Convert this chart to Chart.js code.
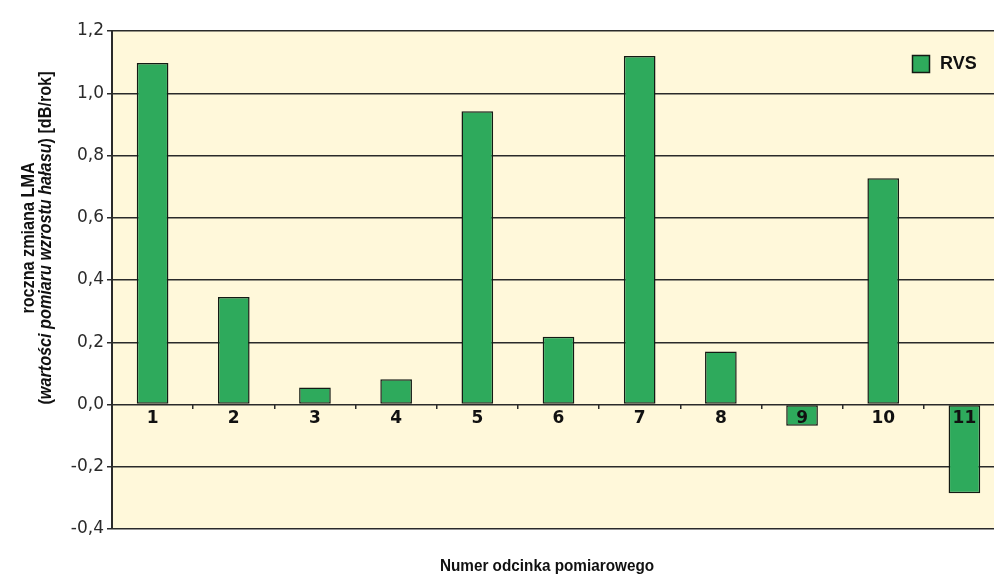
<!DOCTYPE html>
<html>
<head>
<meta charset="utf-8">
<title>Roczna zmiana LMA</title>
<script src="https://cdn.jsdelivr.net/npm/chart.js@4/dist/chart.umd.min.js"></script>
<style>
  html, body { margin: 0; padding: 0; background: #ffffff; overflow: hidden; }
  #wrap { width: 1005px; height: 576px; }
</style>
</head>
<body>
<div id="wrap"><canvas id="chart" width="1005" height="576"></canvas></div>
<script>
// Measurement sections (x axis categories)
const categories = ['1', '2', '3', '4', '5', '6', '7', '8', '9', '10', '11'];

// Annual LMA change per section, dB/year
const seriesName = 'RVS';
const rvsValues = [1.097, 0.345, 0.055, 0.081, 0.942, 0.218, 1.12, 0.17, -0.068, 0.727, -0.285];

// Value axis range and step
const yMin = -0.4;
const yMax = 1.2;
const yStep = 0.2;

// Axis titles
const xTitle = 'Numer odcinka pomiarowego';
const yTitleLine1 = 'roczna zmiana LMA';
const yTitleLine2 = [
  { text: '(', style: 'bold' },
  { text: 'wartości pomiaru wzrostu hałasu', style: 'italic' },
  { text: ') [dB/rok]', style: 'bold' }
];

const TITLE_FONT = '"Liberation Sans", Arial, sans-serif';
const BAR_FILL = '#2EAA5C';
const BAR_EDGE = '#141a14';
const LINE_DARK = '#2a2a2a';
const PLOT_BG = '#FFF8DA';

// Cream fill behind the plot area
const plotBackground = {
  id: 'plotBackground',
  beforeDraw(chart) {
    const { ctx, chartArea: a } = chart;
    ctx.save();
    ctx.fillStyle = PLOT_BG;
    ctx.fillRect(a.left, a.top, a.right - a.left, a.bottom - a.top);
    ctx.restore();
  }
};

// Axis titles (mixed bold / italic runs) and the in-plot legend
const annotations = {
  id: 'annotations',
  afterDraw(chart) {
    const ctx = chart.ctx;
    const squeeze = 0.9;

    // vertical title, two lines, reading bottom to top
    const yCenter = 238;
    ctx.save();
    ctx.fillStyle = '#111';
    ctx.textBaseline = 'alphabetic';
    ctx.textAlign = 'left';

    ctx.save();
    ctx.translate(34, yCenter);
    ctx.rotate(-Math.PI / 2);
    ctx.scale(squeeze, 1);
    ctx.font = 'bold 18px ' + TITLE_FONT;
    const w1 = ctx.measureText(yTitleLine1).width;
    ctx.fillText(yTitleLine1, -w1 / 2, 0);
    ctx.restore();

    ctx.save();
    ctx.translate(51, yCenter);
    ctx.rotate(-Math.PI / 2);
    ctx.scale(squeeze, 1);
    const fontOf = s => (s === 'italic' ? 'italic bold 18px ' : 'bold 18px ') + TITLE_FONT;
    let total = 0;
    yTitleLine2.forEach(seg => { ctx.font = fontOf(seg.style); total += ctx.measureText(seg.text).width; });
    let x = -total / 2;
    yTitleLine2.forEach(seg => {
      ctx.font = fontOf(seg.style);
      ctx.fillText(seg.text, x, 0);
      x += ctx.measureText(seg.text).width;
    });
    ctx.restore();

    // horizontal title under the plot
    ctx.save();
    ctx.translate(547, 571);
    ctx.scale(squeeze, 1);
    ctx.font = 'bold 17px ' + TITLE_FONT;
    ctx.textAlign = 'center';
    ctx.fillText(xTitle, 0, 0);
    ctx.restore();

    // legend
    const ds = chart.data.datasets[0];
    ctx.fillStyle = ds.backgroundColor;
    ctx.fillRect(912.5, 55.5, 17, 17);
    ctx.strokeStyle = ds.borderColor;
    ctx.lineWidth = 1.5;
    ctx.strokeRect(912.5, 55.5, 17, 17);
    ctx.fillStyle = '#111';
    ctx.font = 'bold 18px ' + TITLE_FONT;
    ctx.textBaseline = 'middle';
    ctx.fillText(ds.label, 940, 64.5);
    ctx.restore();
  }
};

new Chart(document.getElementById('chart'), {
  type: 'bar',
  data: {
    labels: categories,
    datasets: [{
      label: seriesName,
      data: rvsValues,
      backgroundColor: BAR_FILL,
      borderColor: BAR_EDGE,
      borderWidth: 1.5,
      borderSkipped: false,
      barPercentage: 0.39,
      categoryPercentage: 1.0
    }]
  },
  options: {
    responsive: false,
    animation: false,
    devicePixelRatio: 1,
    layout: { padding: { top: 31, bottom: 47, left: 0, right: 0 } },
    plugins: {
      legend: { display: false },
      tooltip: { enabled: false }
    },
    scales: {
      x: {
        type: 'category',
        position: { y: 0 },
        offset: true,
        grid: {
          display: true,
          offset: true,
          drawOnChartArea: false,
          drawTicks: true,
          tickLength: 4,
          color: LINE_DARK,
          lineWidth: 1.5,
          z: 1
        },
        border: { display: false },
        ticks: {
          z: 1,
          autoSkip: false,
          maxRotation: 0,
          padding: 0,
          color: '#111',
          font: { family: '"DejaVu Sans", sans-serif', weight: 'bold', size: 17 }
        },
        afterFit(scale) { scale.height = 0; }
      },
      y: {
        min: yMin,
        max: yMax,
        grid: {
          color: LINE_DARK,
          lineWidth: 1.5,
          drawTicks: true,
          tickLength: 5
        },
        border: { display: true, color: LINE_DARK, width: 2 },
        ticks: {
          stepSize: yStep,
          padding: 3,
          color: '#2a2a2a',
          font: { family: '"DejaVu Sans", sans-serif', size: 17 },
          callback: v => (Math.abs(v) < 1e-9 ? 0 : v).toFixed(1).replace('.', ',')
        },
        afterFit(scale) { scale.width = 112; }
      }
    }
  },
  plugins: [plotBackground, annotations]
});
</script>
</body>
</html>
